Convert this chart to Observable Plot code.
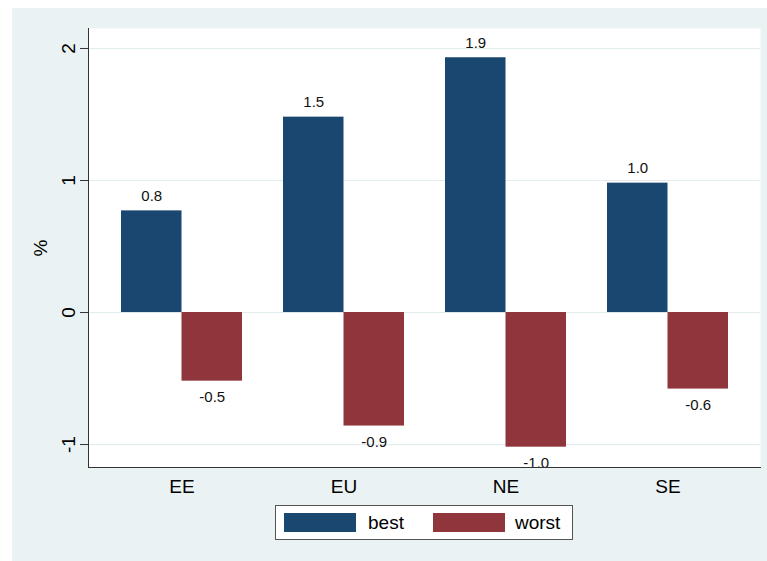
<!DOCTYPE html>
<html><head><meta charset="utf-8">
<script src="https://cdn.jsdelivr.net/npm/d3@7"></script>
<script src="https://cdn.jsdelivr.net/npm/@observablehq/plot@0.6"></script>
<style>
body{margin:0;background:#fff;font-family:"Liberation Sans",Arial,sans-serif;}
#wrap{position:relative;width:767px;height:561px;overflow:hidden;}
#bg{position:absolute;left:12px;top:8px;width:755px;height:553px;background:#EAF2F3;}
#chart{position:absolute;left:0;top:0;}
#legend{position:absolute;left:275px;top:505px;width:298px;height:35px;box-sizing:border-box;border:1px solid #555;background:#fff;display:flex;align-items:center;font-size:19px;color:#000;}
.sw{width:72px;height:19px;display:inline-block;}
</style></head>
<body><div id="wrap"><div id="bg"></div><div id="chart"></div><div id="legend"></div></div>
<script>
const categories = ["EE", "EU", "NE", "SE"];
const series = ["best", "worst"];
const bestValues = [0.77, 1.48, 1.93, 0.98];
const worstValues = [-0.52, -0.86, -1.02, -0.58];
const colors = ["#1A476F", "#90353B"];
const yTicks = [-1, 0, 1, 2];
const yDomain = [-1.174, 2.1515];

const data = categories.flatMap((c, i) => [
  {cat: c, series: "best", value: bestValues[i]},
  {cat: c, series: "worst", value: worstValues[i]}
]);
const best = data.filter(d => d.series === "best");
const worst = data.filter(d => d.series === "worst");
const fmt = d => d.value.toFixed(1);
const font = "'Liberation Sans', Arial, sans-serif";

const base = {
  width: 767, height: 500,
  marginLeft: 88, marginRight: 7, marginTop: 28, marginBottom: 33,
  style: {background: "transparent", fontFamily: font, fontSize: "19px", color: "#000"},
  x: {domain: categories, paddingInner: 0.2546, paddingOuter: 0.197, axis: null},
  y: {domain: yDomain, axis: null},
  color: {domain: series, range: colors}
};

// measure band width from the library's own x scale
const probe = Plot.plot({...base, marks: [Plot.barY(data, {x: "cat", y: "value"})]});
const half = probe.scale("x").bandwidth / 2;

const chart = Plot.plot({
  ...base,
  marks: [
    Plot.frame({fill: "white", stroke: null}),
    Plot.gridY(yTicks, {stroke: "#e2ebee", strokeOpacity: 1, strokeWidth: 1.2}),
    Plot.barY(best, {x: "cat", y: "value", fill: "series", insetRight: half}),
    Plot.barY(worst, {x: "cat", y: "value", fill: "series", insetLeft: half}),
    Plot.text(best, {x: "cat", y: "value", text: fmt, dx: -half / 2, dy: -15, fontSize: 15, fill: "#111"}),
    Plot.text(worst, {x: "cat", y: "value", text: fmt, dx: half / 2, dy: 16, fontSize: 15, fill: "#111"}),
    Plot.frame({anchor: "left", stroke: "#333"}),
    Plot.frame({anchor: "bottom", stroke: "#333"}),
    Plot.axisY(yTicks, {anchor: "left", tickSize: 8, tickPadding: 6, tickRotate: -90, tickFormat: d => String(d), fontSize: 19, stroke: "#333", fill: "#000", label: "%", labelAnchor: "center", labelOffset: 55, labelArrow: "none"}),
    Plot.axisX({anchor: "bottom", tickSize: 0, tickPadding: 12, fontSize: 19, fill: "#000", label: null})
  ]
});
document.getElementById("chart").appendChild(chart);

const legend = document.getElementById("legend");
series.forEach((s, i) => {
  const sw = document.createElement("span");
  sw.className = "sw";
  sw.style.background = colors[i];
  sw.style.marginLeft = i === 0 ? "8px" : "29px";
  const t = document.createElement("span");
  t.textContent = s;
  t.style.marginLeft = i === 0 ? "12px" : "10px";
  legend.appendChild(sw);
  legend.appendChild(t);
});
</script>
</body></html>
